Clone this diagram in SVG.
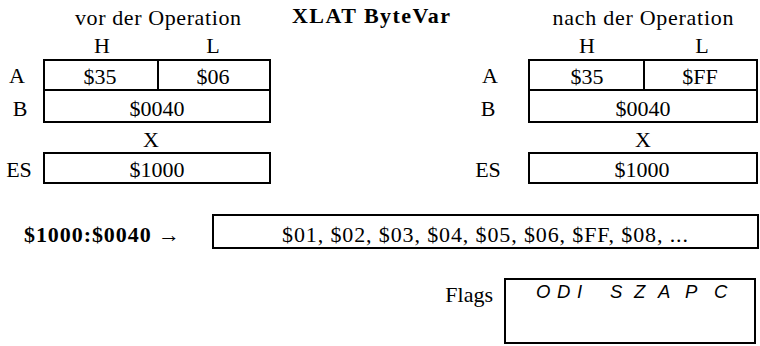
<svg xmlns="http://www.w3.org/2000/svg" width="760" height="346" viewBox="0 0 760 346">
<style>
.t{font-family:"Liberation Serif","Times New Roman",serif;font-size:22px;fill:#000}
.m{text-anchor:middle}
.b{font-weight:bold}
.box{fill:none;stroke:#000;stroke-width:2}
.flag{font-family:"Liberation Sans",Arial,sans-serif;font-size:18.5px;font-style:italic;fill:#000}
</style>
<rect width="760" height="346" fill="#fff"/>
<text class="t m" x="158" y="25" textLength="166" lengthAdjust="spacing">vor der Operation</text>
<text class="t b" x="292" y="23" textLength="158" lengthAdjust="spacing">XLAT ByteVar</text>
<text class="t m" x="643" y="25" textLength="181" lengthAdjust="spacing">nach der Operation</text>

<g id="before">
<text class="t m" x="102" y="53">H</text>
<text class="t m" x="213" y="53">L</text>
<g id="regA1">
<text class="t m" x="17" y="83">A</text>
<rect class="box" x="44" y="60" width="226" height="30"/>
<line class="box" x1="158" y1="60" x2="158" y2="90"/>
<text class="t m" x="100" y="84">$35</text>
<text class="t m" x="213" y="84">$06</text>
</g>
<g id="regB1">
<text class="t m" x="20" y="116">B</text>
<rect class="box" x="44" y="90" width="226" height="32"/>
<text class="t m" x="157" y="116">$0040</text>
</g>
<text class="t m" x="151" y="147">X</text>
<g id="regES1">
<text class="t m" x="19" y="177">ES</text>
<rect class="box" x="44" y="153" width="226" height="30"/>
<text class="t m" x="157" y="177">$1000</text>
</g>
</g>

<g id="after">
<text class="t m" x="587" y="53">H</text>
<text class="t m" x="702" y="53">L</text>
<g id="regA2">
<text class="t m" x="490" y="83">A</text>
<rect class="box" x="529" y="60" width="228" height="30"/>
<line class="box" x1="644" y1="60" x2="644" y2="90"/>
<text class="t m" x="587" y="84">$35</text>
<text class="t m" x="700" y="84">$FF</text>
</g>
<g id="regB2">
<text class="t m" x="488" y="116">B</text>
<rect class="box" x="529" y="90" width="228" height="32"/>
<text class="t m" x="643" y="116">$0040</text>
</g>
<text class="t m" x="643" y="147">X</text>
<g id="regES2">
<text class="t m" x="488" y="177">ES</text>
<rect class="box" x="529" y="153" width="228" height="30"/>
<text class="t m" x="642" y="177">$1000</text>
</g>
</g>

<g id="memory">
<text class="t b" x="24" y="242" textLength="156" lengthAdjust="spacing">$1000:$0040 →</text>
<rect class="box" x="213" y="215" width="545" height="33"/>
<text class="t m" x="485" y="242" textLength="406" lengthAdjust="spacing">$01, $02, $03, $04, $05, $06, $FF, $08, ...</text>
</g>

<g id="flags">
<text class="t" x="493" y="302" text-anchor="end">Flags</text>
<rect class="box" x="505" y="279" width="250" height="64"/>
<text class="flag" y="298"><tspan x="536">O</tspan> <tspan x="557">D</tspan> <tspan x="577">I</tspan> <tspan x="610">S</tspan> <tspan x="634">Z</tspan> <tspan x="658">A</tspan> <tspan x="685">P</tspan> <tspan x="714">C</tspan></text>
</g>
<g id="connectors"/>
</svg>
